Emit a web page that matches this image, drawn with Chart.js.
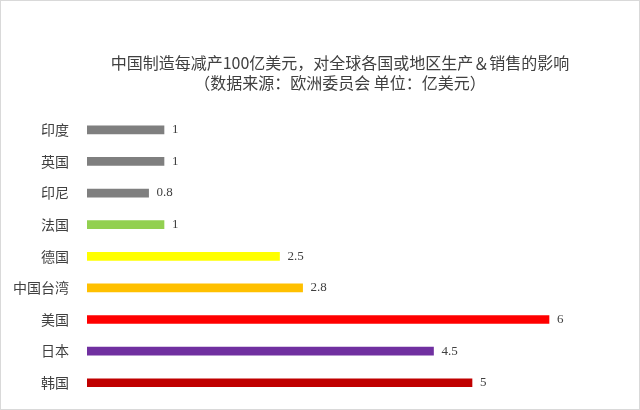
<!DOCTYPE html>
<html>
<head>
<meta charset="utf-8">
<script src="https://cdn.jsdelivr.net/npm/chart.js@4.4.0/dist/chart.umd.min.js"></script>
<style>
  html, body { margin: 0; padding: 0; background: #fff; }
  #box { width: 638px; height: 408px; border: 1px solid #d9d9d9; overflow: hidden; }
  canvas { display: block; }
</style>
</head>
<body>
<div id="box"><canvas id="chart" width="638" height="416"></canvas></div>
<script>
// 数据
const regions = ["印度", "英国", "印尼", "法国", "德国", "中国台湾", "美国", "日本", "韩国"];
const impact = [1, 1, 0.8, 1, 2.5, 2.8, 6, 4.5, 5];
const barColors = ["#7f7f7f", "#7f7f7f", "#7f7f7f", "#92d050", "#ffff00", "#ffc000", "#ff0000", "#7030a0", "#c00000"];
const titleLines = ["中国制造每减产100亿美元，对全球各国或地区生产＆销售的影响", "（数据来源：欧洲委员会 单位：亿美元）"];

// 标题
const titlePlugin = {
  id: "titleText",
  afterDraw(chart) {
    const ctx = chart.ctx;
    ctx.save();
    ctx.fillStyle = "#404040";
    ctx.font = "16px 'Noto Sans CJK SC'";
    ctx.textAlign = "center";
    ctx.textBaseline = "middle";
    ctx.fillText(titleLines[0], 339, 62);
    ctx.fillText(titleLines[1], 339, 82);
    ctx.restore();
  }
};

// 数值标签
const valueLabels = {
  id: "valueLabels",
  afterDatasetsDraw(chart) {
    const ctx = chart.ctx;
    const meta = chart.getDatasetMeta(0);
    ctx.save();
    ctx.fillStyle = "#404040";
    ctx.font = "13px 'Liberation Serif'";
    ctx.textBaseline = "middle";
    meta.data.forEach((bar, i) => {
      ctx.fillText(String(impact[i]), bar.x + 8, bar.y);
    });
    ctx.restore();
  }
};

new Chart(document.getElementById("chart"), {
  type: "bar",
  data: {
    labels: regions,
    datasets: [{
      data: impact,
      backgroundColor: barColors,
      barThickness: 8
    }]
  },
  options: {
    indexAxis: "y",
    responsive: false,
    animation: false,
    layout: { autoPadding: false, padding: { top: 113, right: 13, bottom: 1, left: 0 } },
    plugins: { legend: { display: false }, tooltip: { enabled: false } },
    scales: {
      x: { display: false, min: 0, max: 7, afterFit(scale) { scale.height = 0; } },
      y: {
        grid: { display: false },
        border: { display: false },
        ticks: {
          color: "#404040",
          font: { family: "'Noto Sans CJK SC'", size: 14 },
          padding: 10
        },
        afterFit(scale) { scale.width = 86; }
      }
    }
  },
  plugins: [titlePlugin, valueLabels]
});
</script>
</body>
</html>
